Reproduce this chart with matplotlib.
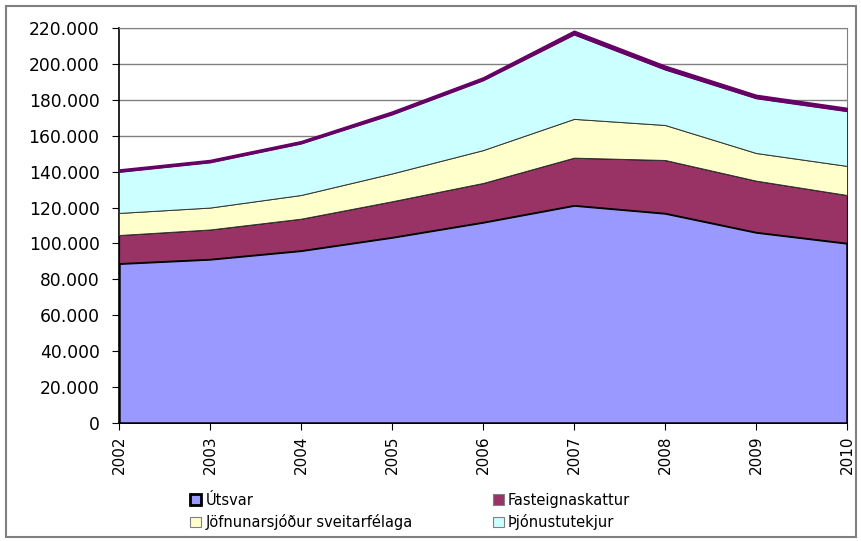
import matplotlib
matplotlib.use("Agg")
from matplotlib import pyplot as plt
from matplotlib.patches import Patch, Rectangle
from matplotlib.ticker import FuncFormatter, MultipleLocator

# gogn (thusundir kr.)
ar = [2002, 2003, 2004, 2005, 2006, 2007, 2008, 2009, 2010]
utsvar = [89000, 91400, 96200, 103600, 112000, 121400, 117000, 106400, 100300]
fasteignaskattur = [15700, 16400, 17600, 19900, 21700, 26400, 29500, 28600, 26700]
jofnunarsjodur = [12300, 12200, 13200, 15500, 18300, 21600, 19500, 15400, 16200]
thjonustutekjur = [23000, 25300, 28800, 33000, 39000, 47100, 31000, 30600, 30600]
annad = [1200, 1200, 1200, 1500, 1500, 2000, 2000, 1800, 1700]

heiti = ["Útsvar", "Fasteignaskattur", "Jöfnunarsjóður sveitarfélaga", "Þjónustutekjur"]
litir = ["#9999FF", "#993366", "#FFFFCC", "#CCFFFF", "#660066"]

plt.rcParams['font.family'] = ['DejaVu Sans']

fig = plt.figure(figsize=(8.62, 5.41), dpi=100)
ax = fig.add_axes([0.138, 0.2181, 0.8446, 0.7301])

polys = ax.stackplot(ar, utsvar, fasteignaskattur, jofnunarsjodur, thjonustutekjur, annad,
                     colors=litir, zorder=3)
kantar = [("black", 1.8), ("black", 0.9), ("#333333", 0.7), ("#333333", 0.7), ("#660066", 1.1)]
for p, (c, lw) in zip(polys, kantar):
    p.set_edgecolor(c)
    p.set_linewidth(lw)

ax.set_xlim(2002, 2010)
ax.set_ylim(0, 220000)
ax.set_xticks(ar)
ax.set_xticklabels([str(a) for a in ar], rotation=90, fontsize=11)
ax.yaxis.set_major_locator(MultipleLocator(20000))
ax.yaxis.set_major_formatter(FuncFormatter(lambda v, pos: '{:,.0f}'.format(v).replace(',', '.')))
ax.tick_params(axis='y', labelsize=12.3, length=5, direction='out', pad=9)
ax.tick_params(axis='x', length=5, direction='out', pad=4)
ax.grid(axis='y', color='#808080', linewidth=1, zorder=1)
ax.set_axisbelow(True)
for s in ['top', 'right']:
    ax.spines[s].set_color('#808080')
for s in ['left', 'bottom']:
    ax.spines[s].set_color('black')
    ax.spines[s].set_linewidth(1.2)

handles = [
    Patch(facecolor=litir[0], edgecolor='black', linewidth=2, label=heiti[0]),
    Patch(facecolor=litir[2], edgecolor='#808080', linewidth=0.8, label=heiti[2]),
    Patch(facecolor=litir[1], edgecolor='#808080', linewidth=0.8, label=heiti[1]),
    Patch(facecolor=litir[3], edgecolor='#808080', linewidth=0.8, label=heiti[3]),
]
fig.legend(handles=handles, ncol=2, loc='upper left', bbox_to_anchor=(0.212, 0.103),
           frameon=False, fontsize=10.5, handlelength=0.75, handleheight=0.75,
           handletextpad=0.3, columnspacing=5.5, labelspacing=0.45, borderpad=0)

fig.patches.append(Rectangle((0.007, 0.007), 0.986, 0.982, transform=fig.transFigure,
                             fill=False, edgecolor='#808080', linewidth=1.5))

plt.savefig('out.png', dpi=100)
